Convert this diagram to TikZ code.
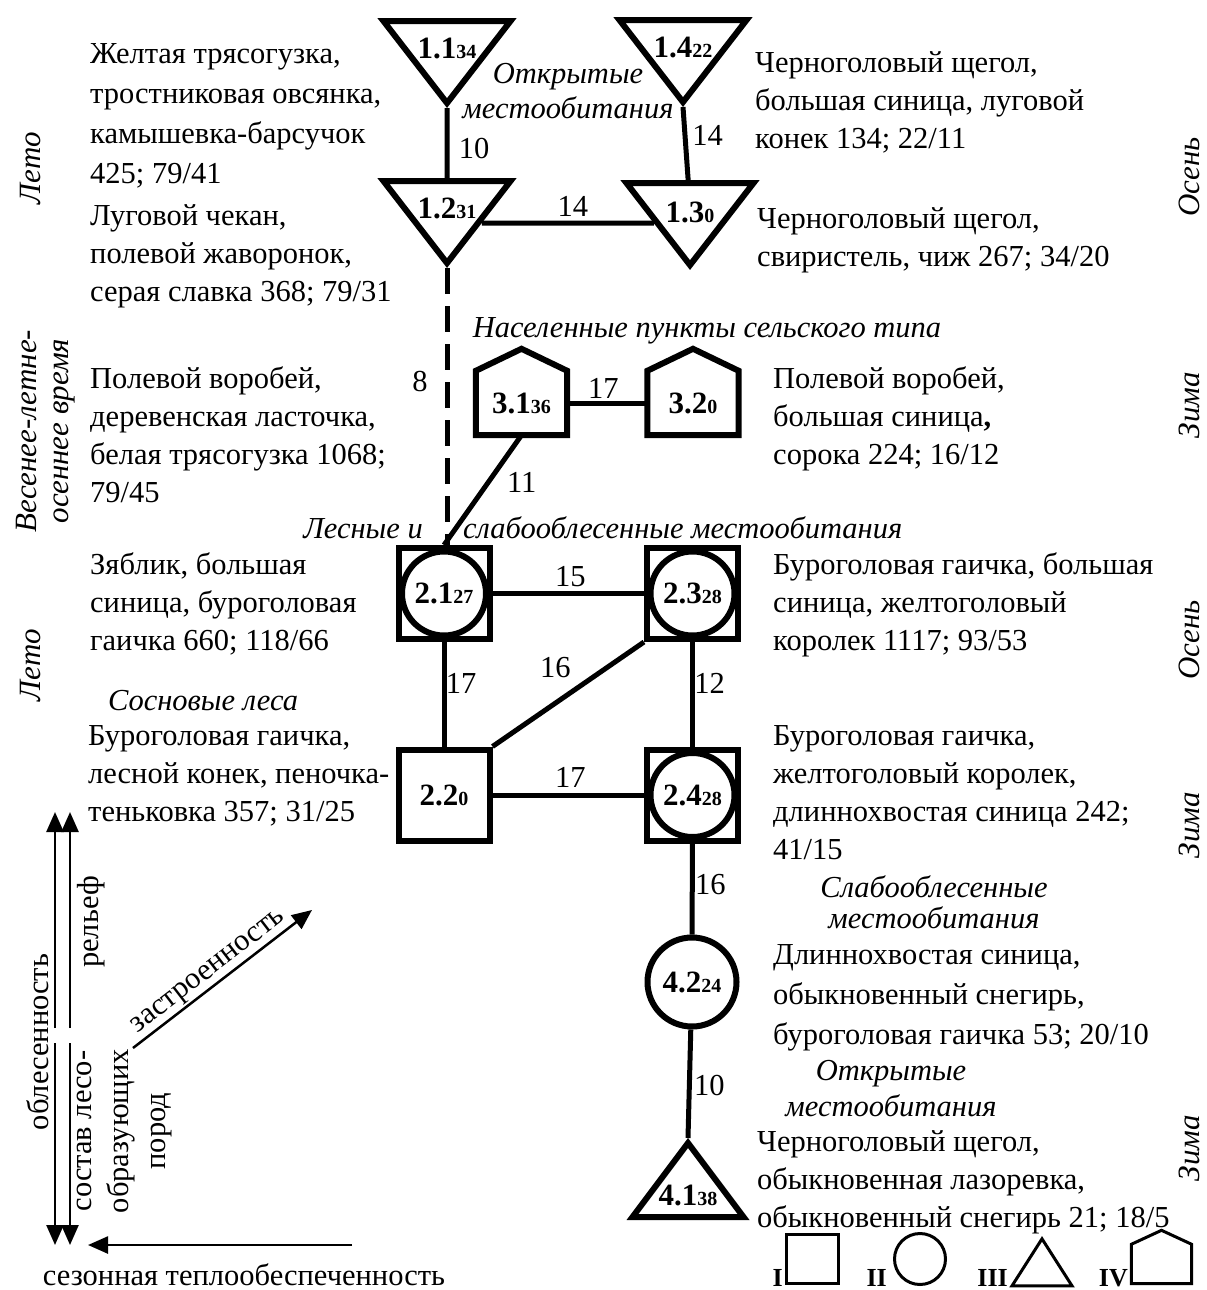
\documentclass[tikz,border=0pt]{standalone}
\usepackage{fontspec}
\setmainfont{Liberation Serif}
\usetikzlibrary{shapes.geometric,arrows.meta,calc}
\newcommand{\smallnum}[1]{{\fontsize{20}{20}\selectfont #1}}

\begin{document}
\begin{tikzpicture}[x=1pt,y=-1pt,
	txt/.style={font=\fontsize{30.5}{38}\selectfont, inner sep=0pt, align=left, anchor=north west},
	wide/.style={font=\fontsize{30.5}{40}\selectfont},
	hab/.style={font=\fontsize{30.5}{35}\selectfont\itshape, inner sep=0pt, align=center},
	season/.style={font=\fontsize{31}{32}\selectfont\itshape, inner sep=0pt, rotate=90, align=center},
	num/.style={font=\fontsize{30.5}{30.5}\selectfont, inner sep=0pt},
	link/.style={line width=5pt},
	outline/.style={line width=6pt, line join=miter},
	shp/.style={draw, line width=6pt, inner sep=0pt, font=\fontsize{31}{31}\selectfont\bfseries},
	tridown/.style={shp, isosceles triangle, isosceles triangle apex angle=75, isosceles triangle stretches, shape border rotate=270, minimum width=127pt, minimum height=82pt, text height=33pt, anchor=apex},
	triup/.style={shp, isosceles triangle, isosceles triangle apex angle=74, isosceles triangle stretches, shape border rotate=90, minimum width=111pt, minimum height=74pt, text depth=9pt, anchor=apex},
	sqbox/.style={shp, rectangle, minimum size=91pt},
	sqcirc/.style={sqbox, path picture={\draw[line width=6pt] (path picture bounding box.center) circle[radius=42pt];}},
	circ/.style={shp, circle, minimum size=89pt},
	house/.style={rectangle, inner sep=0pt, minimum width=91pt, minimum height=64pt, font=\fontsize{31}{31}\selectfont\bfseries},
	axis/.style={line width=2.5pt, -{Triangle[length=20pt,width=17pt]}},
	legend/.style={draw, line width=3pt, inner sep=0pt}
]
\useasboundingbox (0,0) rectangle (1207,1290);

% Open habitats
\node[tridown] (n11) at (447,108) {1.1\smallnum{34}};
\node[tridown] (n14) at (683,107) {1.4\smallnum{22}};
\node[tridown] (n12) at (447,268) {1.2\smallnum{31}};
\node[tridown] (n13) at (690,270) {1.3\smallnum{0}};
\node[hab, anchor=north] (h1) at (568,63) {Открытые\\местообитания};

\draw[link] (n11) -- node[num, xshift=27pt, yshift=-5pt] {10} (n12);
\draw[link] (n14.apex) -- node[num, xshift=22pt, yshift=8pt] {14} (n13);
\draw[link] ($(n12.apex)!0.5!(n12.left corner)$) -- node[num, xshift=5pt, yshift=17pt] {14} ($(n13.apex)!0.52!(n13.right corner)$);

% Rural settlements
\node[house] (n31) at (521.5,403) {3.1\smallnum{36}};
\node[house] (n32) at (693,403) {3.2\smallnum{0}};
\draw[outline] (n31.south west) -- (n31.north west) -- ([yshift=22pt]n31.north) -- (n31.north east) -- (n31.south east) -- cycle;
\draw[outline] (n32.south west) -- (n32.north west) -- ([yshift=22pt]n32.north) -- (n32.north east) -- (n32.south east) -- cycle;
\node[hab, anchor=base] (h3) at (707,337) {Населенные пункты сельского типа};
\draw[link] (n31) -- node[num, xshift=-4pt, yshift=15pt] {17} (n32);

% Forest and sparsely forested habitats
\node[sqcirc] (n21) at (444,593.5) {2.1\smallnum{27}};
\node[sqcirc] (n23) at (692.5,593.5) {2.3\smallnum{28}};
\node[sqbox] (n22) at (444,795) {2.2\smallnum{0}};
\node[sqcirc] (n24) at (692.5,795) {2.4\smallnum{28}};
\node[hab, anchor=base east] (h2a) at (423,538) {Лесные и};
\node[hab, anchor=base west] (h2b) at (463,538) {слабооблесенные местообитания};
\node[hab, anchor=base] (h2c) at (203,710) {Сосновые леса};

\draw[link, dash pattern=on 26pt off 12pt] (n12.apex) -- node[num, xshift=-27pt, yshift=25pt] {8} (n12.apex |- n21.north);
\draw[link] (n31.south) -- node[num, xshift=39pt, yshift=8pt] {11} (n21.north);
\draw[link] (n21) -- node[num, xshift=2pt, yshift=17pt] {15} (n23);
\draw[link] (n21) -- node[num, xshift=17pt, yshift=11pt] {17} (n22);
\draw[link] (n22.north east) -- node[num, xshift=-13pt, yshift=27pt] {16} (n23.south west);
\draw[link] (n23) -- node[num, xshift=17pt, yshift=11pt] {12} (n24);
\draw[link] (n22) -- node[num, xshift=2pt, yshift=18pt] {17} (n24);

% Winter chain
\node[circ] (n42) at (692,982) {4.2\smallnum{24}};
\node[triup] (n41) at (688,1138) {4.1\smallnum{38}};
\node[hab, anchor=north] (h4a) at (934,875) {Слабооблесенные\\[-4pt]местообитания};
\node[hab, anchor=north] (h4b) at (891,1060) {Открытые\\[1pt]местообитания};
\draw[link] (n24) -- node[num, xshift=18pt, yshift=4pt] {16} (n42);
\draw[link] (n42) -- node[num, xshift=20pt, yshift=-2pt] {10} (n41.apex);

% Species lists
\node[txt, wide] (d11) at (90,43) {Желтая трясогузка,\\тростниковая овсянка,\\камышевка-барсучок\\425; 79/41};
\node[txt] (d12) at (90,204) {Луговой чекан,\\полевой жаворонок,\\серая славка 368; 79/31};
\node[txt] (d31) at (90,366) {Полевой воробей,\\деревенская ласточка,\\белая трясогузка 1068;\\79/45};
\node[txt] (d21) at (90,552) {Зяблик, большая\\синица, буроголовая\\гаичка 660; 118/66};
\node[txt] (d22) at (88,725) {Буроголовая гаичка,\\лесной конек, пеночка-\\теньковка 357; 31/25};
\node[txt] (d14) at (755,51) {Черноголовый щегол,\\большая синица, луговой\\конек 134; 22/11};
\node[txt] (d13) at (757,207) {Черноголовый щегол,\\свиристель, чиж 267; 34/20};
\node[txt] (d32) at (773,366) {Полевой воробей,\\большая синица{\bfseries ,}\\сорока 224; 16/12};
\node[txt] (d23) at (773,552) {Буроголовая гаичка, большая\\синица, желтоголовый\\королек 1117; 93/53};
\node[txt] (d24) at (773,725) {Буроголовая гаичка,\\желтоголовый королек,\\длиннохвостая синица 242;\\41/15};
\node[txt, wide] (d42) at (773,944) {Длиннохвостая синица,\\обыкновенный снегирь,\\буроголовая гаичка 53; 20/10};
\node[txt] (d41) at (757,1130) {Черноголовый щегол,\\обыкновенная лазоревка,\\обыкновенный снегирь 21; 18/5};

% Seasons
\node[season] (s1) at (31,168) {Лето};
\node[season] (s2) at (46,431) {Весенее-летне-\\осеннее время};
\node[season] (s3) at (31,665) {Лето};
\node[season] (s4) at (1189,177) {Осень};
\node[season] (s5) at (1189,405) {Зима};
\node[season] (s6) at (1189,640) {Осень};
\node[season] (s7) at (1189,825) {Зима};
\node[season] (s8) at (1189,1148) {Зима};

% Factor axes
\coordinate (oba) at (55,1028);
\coordinate (obb) at (55,1043);
\coordinate (rla) at (70,1028);
\coordinate (rlb) at (70,1043);
\coordinate (zst) at (133,1048);
\coordinate (sez) at (352,1245);
\draw[axis] (oba) -- (55,812);
\draw[axis] (obb) -- (55,1245);
\draw[axis] (rla) -- (70,812);
\draw[axis] (rlb) -- (70,1245);
\draw[axis] (zst) -- node[num, sloped, above=1pt, pos=0.47] {застроенность} (312,910);
\draw[axis] (sez) -- (88,1245);
\node[num, rotate=90] (a1) at (38,1042) {облесенность};
\node[num, rotate=90] (a2) at (91,922) {рельеф};
\node[num, rotate=90, align=center, font=\fontsize{30.5}{37}\selectfont] (a3) at (125,1131) {состав лесо-\\образующих\\пород};
\node[num] (a4) at (244,1275) {сезонная теплообеспеченность};

% Legend
\node[legend, rectangle, minimum width=52pt, minimum height=49pt] (l1) at (812.5,1259) {};
\node[legend, circle, minimum size=51pt] (l2) at (920,1259) {};
\node[legend, isosceles triangle, isosceles triangle apex angle=64, isosceles triangle stretches, shape border rotate=90, minimum width=60pt, minimum height=47pt, anchor=apex] (l3) at (1042,1236) {};
\node[rectangle, inner sep=0pt, minimum width=60pt, minimum height=39pt] (l4) at (1161.5,1264) {};
\draw[line width=3pt] (l4.south west) -- (l4.north west) -- ([yshift=14pt]l4.north) -- (l4.north east) -- (l4.south east) -- cycle;
\node[font=\fontsize{26}{26}\selectfont\bfseries, inner sep=0pt, anchor=base east] (r1) at (783,1286) {I};
\node[font=\fontsize{26}{26}\selectfont\bfseries, inner sep=0pt, anchor=base east] (r2) at (887,1286) {II};
\node[font=\fontsize{26}{26}\selectfont\bfseries, inner sep=0pt, anchor=base east] (r3) at (1008,1286) {III};
\node[font=\fontsize{26}{26}\selectfont\bfseries, inner sep=0pt, anchor=base east] (r4) at (1128,1286) {IV};
\end{tikzpicture}
\end{document}
